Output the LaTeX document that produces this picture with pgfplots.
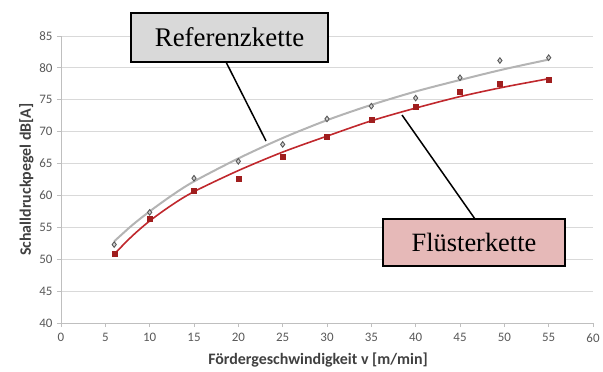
\documentclass[border=0pt]{standalone}
\usepackage{pgfplots}
\pgfplotsset{compat=1.18}
\usepackage{fontspec}
\setmainfont{Carlito}
\newfontfamily\timesfont{Liberation Serif}
\definecolor{gridc}{HTML}{D9D9D9}
\definecolor{axisc}{HTML}{BFBFBF}
\definecolor{tickc}{HTML}{595959}
\definecolor{labc}{HTML}{404040}
\definecolor{refline}{HTML}{B4B4B4}
\definecolor{redline}{HTML}{C0282D}
\definecolor{redmark}{HTML}{A01E1E}
\definecolor{refbox}{HTML}{D9D9D9}
\definecolor{flbox}{HTML}{E6B9B8}

\pgfplotstableread{
x y
6 52.3
10 57.35
15 62.7
20 65.35
25 68.0
30 72.0
35 74.0
40 75.27
45 78.45
49.5 81.15
55 81.6
}\refdata
\pgfplotstableread{
x y
6 50.86
10 56.3
15 60.7
20 62.6
25 66.07
30 69.15
35 71.92
40 73.85
45 76.3
49.5 77.57
55 78.2
}\fldata
\pgfplotstableread{
x y
6 52.8
8 55.3
10 57.5
12.5 60.0
15 62.2
20 65.8
25 69.0
30 71.8
35 74.2
40 76.3
45 78.1
50 79.8
55 81.3
}\reftrend
\pgfplotstableread{
x y
6 50.8
8 53.6
10 56.0
12.5 58.5
15 60.6
20 63.9
25 66.8
30 69.3
35 71.7
40 73.7
45 75.5
50 77.0
55 78.3
}\fltrend

\begin{document}
\begin{tikzpicture}
\useasboundingbox (0,0) rectangle (603bp,372bp);
\begin{axis}[
  at={(61bp,49bp)}, anchor=south west,
  scale only axis, width=532bp, height=287bp,
  xmin=0, xmax=60, ymin=40, ymax=85,
  xtick={0,5,...,60}, ytick={40,45,...,85},
  axis x line*=bottom, axis y line*=left,
  axis line style={draw=axisc, line width=0.9bp},
  ymajorgrids, grid style={draw=gridc, line width=0.9bp},
  tick align=outside, major tick length=4bp,
  tick style={draw=axisc, line width=0.8bp},
  ticklabel style={font=\fontsize{13}{14}\selectfont, text=tickc},
  xticklabel style={yshift=-3bp},
  yticklabel style={xshift=-1bp},
  /pgf/number format/assume math mode=true,
  xlabel={Fördergeschwindigkeit v [m/min]},
  ylabel={Schalldruckpegel dB[A]},
  label style={font=\bfseries\fontsize{16}{18}\selectfont, text=labc},
  xlabel style={yshift=-4bp, xshift=-9bp},
  ylabel style={yshift=-1bp},
  clip=false,
]
\addplot[refline, line width=2bp, smooth, no marks] table[x=x,y=y] {\reftrend};
\addplot[redline, line width=1.6bp, smooth, no marks] table[x=x,y=y] {\fltrend};
\addplot[only marks, mark=diamond*, mark size=2.8bp, draw=tickc, fill=gray!35, line width=0.9bp] table[x=x,y=y] {\refdata};
\addplot[only marks, mark=square*, mark size=2.5bp, draw=redmark, fill=redmark] table[x=x,y=y] {\fldata};
\end{axis}
\draw[line width=1.5bp] (226bp,310bp) -- (266bp,231bp);
\draw[line width=1.5bp] (475bp,153bp) -- (402bp,257bp);
\node[draw, line width=1.8bp, fill=refbox, minimum width=197bp, minimum height=49bp, inner sep=0pt,
  font=\timesfont\fontsize{27}{30}\selectfont] at (229.5bp,334.5bp) {Referenzkette};
\node[draw, line width=1.8bp, fill=flbox, minimum width=182bp, minimum height=47bp, inner sep=0pt,
  font=\timesfont\fontsize{26.5}{30}\selectfont] at (474bp,129.5bp) {Flüsterkette};
\end{tikzpicture}
\end{document}
